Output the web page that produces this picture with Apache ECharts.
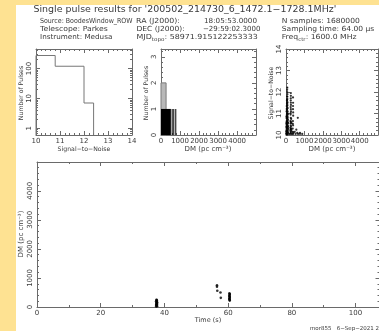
<!DOCTYPE html>
<html>
<head>
<meta charset="utf-8">
<script src="https://cdn.jsdelivr.net/npm/echarts@6/dist/echarts.min.js"></script>
<style>
  html, body { margin: 0; padding: 0; background: #fee292; }
  #paper { position: absolute; left: 16px; top: 5px; width: 363px; height: 326px; background: #fff; }
  #chart { position: absolute; left: 0; top: 0; width: 379px; height: 331px; }
</style>
</head>
<body>
<div id="paper"></div>
<div id="chart"></div>
<script>
// SNR histogram (bin edges / counts)
const snrEdges = [10, 10.8, 12.0, 12.4]
const snrCounts = [275, 120, 7]

// DM histogram: [start, end, count]
const dmGreyBins = [[0, 267, 2]]
const dmBlackBins = [[0, 519, 1], [560, 575, 1], [645, 660, 1], [750, 765, 1]]

// SNR vs DM: [DM, SNR]
const snrDmPoints = [
  [10, 10.05], [30, 10.08], [50, 10.02], [70, 10.1], [90, 10.04], [110, 10.12],
  [20, 10.2], [40, 10.25], [60, 10.18], [80, 10.3], [100, 10.22], [120, 10.28],
  [15, 10.38], [35, 10.45], [55, 10.4], [75, 10.5], [95, 10.42], [115, 10.55],
  [25, 10.6], [45, 10.68], [65, 10.62], [85, 10.75], [105, 10.7],
  [20, 10.85], [40, 10.92], [60, 10.88], [80, 11.0], [100, 10.95],
  [30, 11.1], [50, 11.18], [70, 11.12], [90, 11.25],
  [40, 11.35], [60, 11.42], [80, 11.5],
  [50, 11.6], [70, 11.68], [60, 11.8], [75, 11.9], [65, 12.0], [70, 12.2],
  [12, 10.15], [28, 10.32], [46, 10.12], [64, 10.35], [82, 10.16], [98, 10.34], [118, 10.06],
  [18, 10.52], [38, 10.56], [58, 10.5], [78, 10.64], [96, 10.58], [112, 10.4],
  [32, 10.78], [52, 10.8], [72, 10.86], [92, 10.82], [48, 11.02], [68, 10.98], [88, 11.08],
  [42, 11.22], [62, 11.3], [78, 11.38], [52, 11.48], [68, 11.55], [58, 11.65], [72, 11.78], [62, 12.1],
  [225, 10.05], [245, 10.15], [265, 10.1], [285, 10.25], [305, 10.05],
  [235, 10.35], [255, 10.45], [275, 10.4], [295, 10.55],
  [240, 10.65], [260, 10.8], [280, 10.75],
  [250, 10.95], [270, 11.1], [255, 11.3], [265, 11.5], [260, 11.7], [262, 11.95],
  [232, 10.22], [252, 10.28], [272, 10.3], [292, 10.18], [248, 10.55], [268, 10.62],
  [258, 11.02], [262, 11.2], [268, 11.4], [258, 11.6], [264, 11.82],
  [355, 10.05], [375, 10.15], [395, 10.1], [365, 10.3], [385, 10.45], [375, 10.65],
  [390, 10.9], [380, 11.2], [385, 11.5], [380, 11.75], [370, 10.52], [388, 11.05], [382, 11.35],
  [470, 10.15], [520, 10.05], [560, 10.25], [610, 10.1], [640, 10.8], [700, 10.05], [760, 10.1], [880, 10.05]
]

// DM vs time: [time s, DM]
const timeDmPoints = [
  [37.4, 15], [37.6, 45], [37.5, 80], [37.7, 110], [37.5, 145], [37.6, 180], [37.6, 215], [37.5, 250],
  [37.7, 30], [37.4, 65], [37.6, 95], [37.5, 125], [37.7, 160], [37.4, 195], [37.6, 235],
  [56.5, 745], [56.5, 700], [56.6, 560],
  [57.6, 500], [57.7, 315],
  [60.4, 470], [60.5, 420], [60.4, 370], [60.5, 320], [60.4, 270], [60.5, 220],
  [60.5, 445], [60.4, 395], [60.5, 345], [60.4, 295], [60.5, 245]
]

// tick values
const snrTicks = [10, 11, 12, 13, 14]
const countTicks = [1, 10, 100]
const dmTicks = [0, 1000, 2000, 3000, 4000]
const dmCountTicks = [0, 1, 2, 3]
const timeTicks = [0, 20, 40, 60, 80, 100]

const SNR_RANGE = [10, 14]
const COUNT_RANGE = [0.59, 455]
const DM_RANGE = [0, 4990]
const DMCOUNT_RANGE = [0, 3.3]
const TIME_RANGE = [0, 107.52]

const LINE = '#6a6a6a'
const TXT = '#3a3a3a'
const FONT = 'DejaVu Sans'

function steps(a, b, d) {
  const out = []
  for (let v = a; v <= b + 1e-9; v += d) out.push(+v.toFixed(6))
  return out
}
const lg = (v) => Math.log10(v)
const plain = (v) => String(+v.toFixed(6))

const xAxes = []
const yAxes = []

// one box edge pair per dimension: main side gets labels, both sides get major+minor ticks
function addAxes(list, grid, sides, range, major, minor, label) {
  const first = list.length
  sides.forEach((pos, k) => {
    list.push({
      type: 'value', gridIndex: grid, position: pos, min: range[0], max: range[1],
      axisLine: { show: true, onZero: false, lineStyle: { color: LINE, width: 1 } },
      axisTick: { show: true, inside: true, length: 4, customValues: major, lineStyle: { color: LINE } },
      axisLabel: k === 0 && label
        ? Object.assign({ show: true, customValues: major, color: TXT, fontFamily: FONT, fontSize: 7, margin: 3,
            hideOverlap: false, formatter: plain }, label)
        : { show: false },
      splitLine: { show: false },
    })
    list.push({
      type: 'value', gridIndex: grid, position: pos, min: range[0], max: range[1],
      axisLine: { show: false, onZero: false },
      axisTick: { show: true, inside: true, length: 2, customValues: minor, lineStyle: { color: LINE } },
      axisLabel: { show: false },
      splitLine: { show: false },
    })
  })
  return first
}

const logMinor = [0.6, 0.7, 0.8, 0.9, 2, 3, 4, 5, 6, 7, 8, 9, 20, 30, 40, 50, 60, 70, 80, 90, 200, 300, 400].map(lg)

// grid 0: SNR histogram
const x0 = addAxes(xAxes, 0, ['bottom', 'top'], SNR_RANGE, snrTicks, steps(10, 14, 0.2), {})
const y0 = addAxes(yAxes, 0, ['left', 'right'], COUNT_RANGE.map(lg), countTicks.map(lg), logMinor,
  { rotate: 90, formatter: (v) => String(Math.round(Math.pow(10, v))) })
// grid 1: DM histogram
const x1 = addAxes(xAxes, 1, ['bottom', 'top'], DM_RANGE, dmTicks, steps(0, 4800, 200), {})
const y1 = addAxes(yAxes, 1, ['left', 'right'], DMCOUNT_RANGE, dmCountTicks, steps(0, 3.2, 0.2), { rotate: 90 })
// grid 2: SNR vs DM
const x2 = addAxes(xAxes, 2, ['bottom', 'top'], DM_RANGE, dmTicks, steps(0, 4800, 200), {})
const y2 = addAxes(yAxes, 2, ['left', 'right'], SNR_RANGE, snrTicks, steps(10, 14, 0.2), { rotate: 90 })
// grid 3: DM vs time
const x3 = addAxes(xAxes, 3, ['bottom', 'top'], TIME_RANGE, timeTicks, [10, 30, 50, 70, 90], {})
const y3 = addAxes(yAxes, 3, ['left', 'right'], DM_RANGE, dmTicks, steps(0, 4800, 200), { rotate: 90 })

// step outline for the SNR histogram
const snrStep = [[snrEdges[0], lg(COUNT_RANGE[0])]]
snrCounts.forEach((c, i) => {
  snrStep.push([snrEdges[i], lg(c)])
  snrStep.push([snrEdges[i + 1], lg(c)])
})
snrStep.push([snrEdges[snrEdges.length - 1], lg(COUNT_RANGE[0])])

function binRects(fill, stroke) {
  return (params, api) => {
    const p0 = api.coord([api.value(0), api.value(2)])
    const p1 = api.coord([api.value(1), 0])
    return {
      type: 'rect',
      shape: { x: p0[0], y: p0[1], width: Math.max(1, p1[0] - p0[0]), height: p1[1] - p0[1] },
      style: { fill, stroke, lineWidth: stroke ? 1 : 0 },
    }
  }
}

// sx squeezes/stretches text horizontally to the width of the original plot font
function txt(x, y, text, size, sx, extra) {
  return {
    type: 'text', x, y, scaleX: sx || 1, silent: true,
    style: Object.assign({ text, fill: TXT, font: `${size}px "${FONT}"`, align: 'left', verticalAlign: 'middle' }, extra || {}),
  }
}
function vtxt(x, y, text, size, sx) {
  return { type: 'text', x, y, rotation: Math.PI / 2, scaleX: sx || 1, silent: true,
    style: { text, fill: TXT, font: `${size}px "${FONT}"`, align: 'center', verticalAlign: 'middle' } }
}

const sub = { fontSize: 5, fontFamily: FONT, fill: TXT, verticalAlign: 'bottom', lineHeight: 6 }
const nor = { fontSize: 7, fontFamily: FONT, fill: TXT, lineHeight: 10 }
const DM_LABEL = 'DM (pc cm\u207b\u00b3)'
const SN_LABEL = 'Signal\u2212to\u2212Noise'

const chart = echarts.init(document.getElementById('chart'), null, { renderer: 'canvas' })
chart.setOption({
  animation: false,
  backgroundColor: 'transparent',
  textStyle: { fontFamily: FONT },
  grid: [
    { left: 36, top: 49, width: 96, height: 86, outerBoundsMode: 'none' },
    { left: 161, top: 49, width: 95, height: 86, outerBoundsMode: 'none' },
    { left: 286, top: 49, width: 92, height: 86, outerBoundsMode: 'none' },
    { left: 37, top: 162, width: 342.5, height: 145, outerBoundsMode: 'none' },
  ],
  xAxis: xAxes,
  yAxis: yAxes,
  series: [
    {
      type: 'line', xAxisIndex: x0, yAxisIndex: y0, data: snrStep, symbol: 'none',
      lineStyle: { color: '#777', width: 1 }, clip: true,
    },
    {
      type: 'custom', xAxisIndex: x1, yAxisIndex: y1, data: dmGreyBins,
      encode: { x: [0, 1], y: 2 }, renderItem: binRects('#b8b8b8', '#7a7a7a'),
    },
    {
      type: 'custom', xAxisIndex: x1, yAxisIndex: y1, data: dmBlackBins,
      encode: { x: [0, 1], y: 2 }, renderItem: binRects('#000', null),
    },
    {
      type: 'scatter', xAxisIndex: x2, yAxisIndex: y2, data: snrDmPoints,
      symbolSize: 2.2, itemStyle: { color: '#000' },
    },
    {
      type: 'scatter', xAxisIndex: x3, yAxisIndex: y3, data: timeDmPoints,
      symbolSize: 2.6, itemStyle: { color: '#000' },
    },
  ],
  graphic: [
    txt(33.5, 9.5, "Single pulse results for '200502_214730_6_1472.1\u22121728.1MHz'", 9, 1.05),
    txt(40, 20.7, 'Source: BoodesWindow_ROW', 7, 0.9),
    txt(40, 29.3, 'Telescope: Parkes', 7, 1.1),
    txt(40, 37.5, 'Instrument: Medusa', 7, 1.03),
    txt(136, 20.7, 'RA (J2000):', 7, 1.12),
    txt(136.5, 29.3, 'DEC (J2000):', 7, 1.08),
    txt(204, 20.7, '18:05:53.0000', 7, 1.03),
    txt(203, 29.3, '\u221229:59:02.3000', 7, 1.0),
    txt(136.5, 37.5, '{n|MJD}{s|topo}{n|: 58971.915122253333}', 7, 1.13, { rich: { n: nor, s: sub } }),
    txt(281.7, 20.7, 'N samples: 1680000', 7, 1.08),
    txt(281.7, 29.3, 'Sampling time: 64.00 \u00b5s', 7, 1.08),
    txt(281.7, 37.5, '{n|Freq}{s|ctr}{n|: 1600.0 MHz}', 7, 1.1, { rich: { n: nor, s: sub } }),
    vtxt(21.5, 93, 'Number of Pulses', 6.2),
    txt(84, 149.5, SN_LABEL, 6.2, 1, { align: 'center' }),
    vtxt(146, 93, 'Number of Pulses', 6.2),
    txt(208, 149.5, DM_LABEL, 7, 1, { align: 'center' }),
    vtxt(271, 93, SN_LABEL, 6.2),
    txt(332, 149.5, DM_LABEL, 7, 1, { align: 'center' }),
    vtxt(20.7, 234, DM_LABEL, 7),
    txt(208, 320.7, 'Time (s)', 6.5, 1, { align: 'center' }),
    txt(310, 328.5, 'mor855   6\u2212Sep\u22122021 21:07', 5.5),
  ],
})
</script>
</body>
</html>
